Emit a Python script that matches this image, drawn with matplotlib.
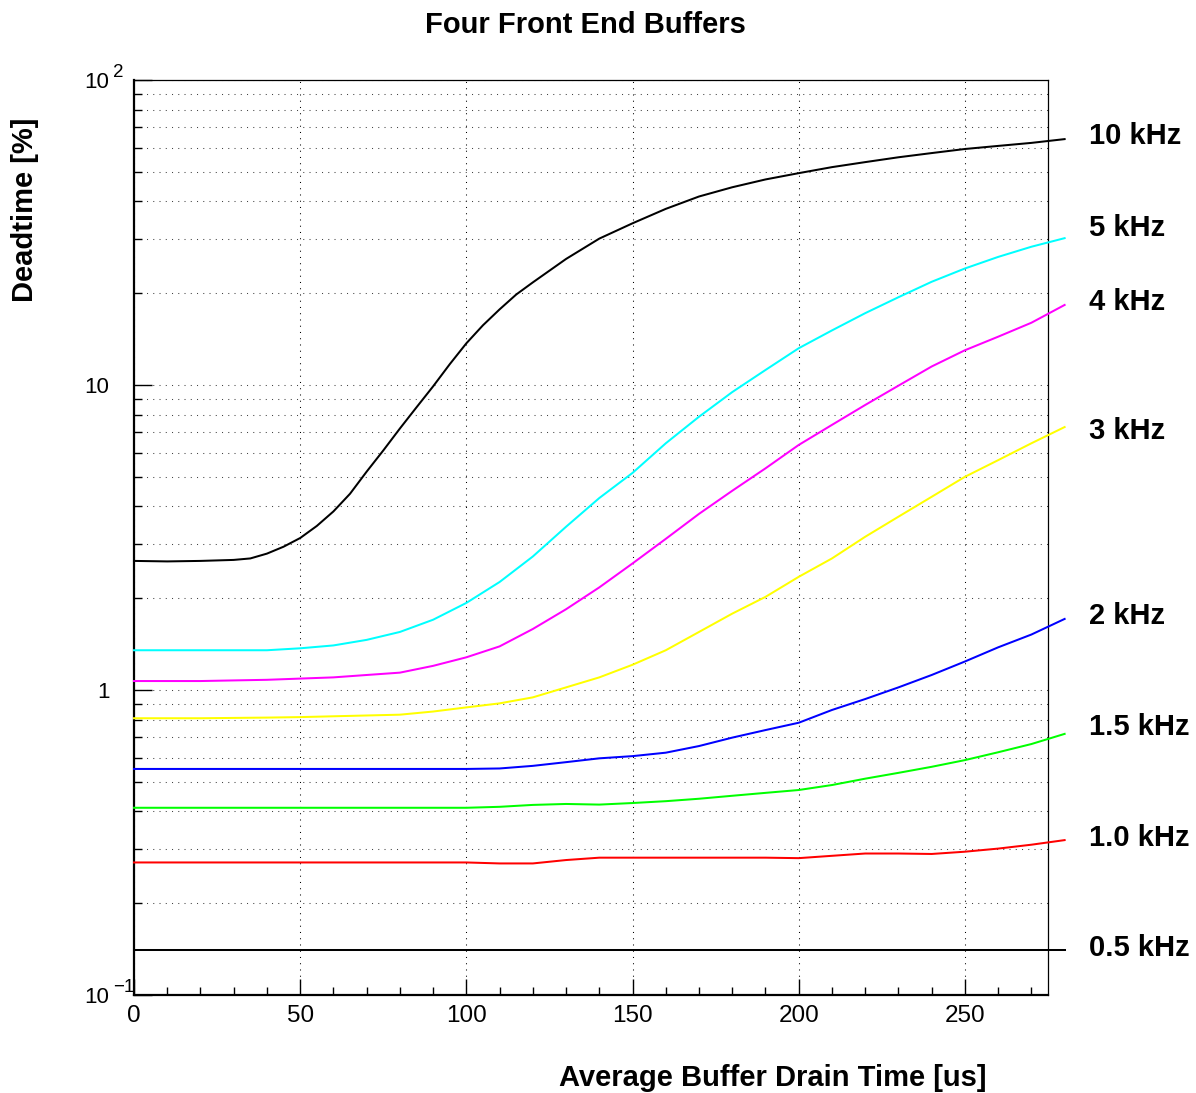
import matplotlib
matplotlib.use("Agg")
import matplotlib.pyplot as plt
import matplotlib.ticker as mticker
from matplotlib.transforms import blended_transform_factory, ScaledTranslation

plt.rcParams['font.family'] = ['Liberation Sans', 'DejaVu Sans']

# drain time [us]
drain = [0, 10, 20, 30, 40, 50, 60, 70, 80, 90, 100, 110, 120, 130, 140,
         150, 160, 170, 180, 190, 200, 210, 220, 230, 240, 250, 260, 270, 280]
# the 10 kHz curve is steep, so it was read on a finer step
drain_10k = [0, 10, 20, 30, 35, 40, 45, 50, 55, 60, 65, 70, 75, 80, 85, 90, 95,
             100, 105, 110, 115, 120, 130, 140, 150, 160, 170, 180, 190, 200,
             210, 220, 230, 240, 250, 260, 270, 280]

# deadtime [%] per trigger rate
dt_10k = [2.65, 2.64, 2.65, 2.67, 2.70, 2.80, 2.95, 3.15, 3.45, 3.85, 4.4, 5.2,
          6.1, 7.2, 8.45, 9.9, 11.7, 13.7, 15.7, 17.7, 19.8, 21.7, 25.9, 30.2,
          33.9, 37.8, 41.5, 44.5, 47.2, 49.5, 51.8, 53.8, 55.8, 57.6, 59.4,
          60.8, 62.2, 64.0]
dt_5k = [1.35, 1.35, 1.35, 1.35, 1.35, 1.37, 1.40, 1.46, 1.55, 1.70, 1.93, 2.26,
         2.74, 3.43, 4.26, 5.15, 6.44, 7.87, 9.48, 11.2, 13.2, 15.1, 17.2, 19.4,
         21.8, 24.1, 26.3, 28.4, 30.3]
dt_4k = [1.07, 1.07, 1.07, 1.075, 1.08, 1.09, 1.10, 1.12, 1.14, 1.20, 1.28, 1.39,
         1.585, 1.84, 2.17, 2.60, 3.13, 3.78, 4.50, 5.33, 6.36, 7.4, 8.6, 9.95,
         11.5, 13.0, 14.4, 16.0, 18.3]
dt_3k = [0.808, 0.808, 0.808, 0.81, 0.812, 0.815, 0.82, 0.825, 0.83, 0.85, 0.877,
         0.904, 0.946, 1.02, 1.10, 1.21, 1.35, 1.55, 1.78, 2.02, 2.35, 2.70, 3.18,
         3.70, 4.30, 5.00, 5.67, 6.44, 7.28]
dt_2k = [0.551, 0.551, 0.551, 0.551, 0.551, 0.551, 0.551, 0.551, 0.551, 0.551,
         0.551, 0.553, 0.564, 0.58, 0.597, 0.607, 0.623, 0.655, 0.698, 0.739,
         0.781, 0.86, 0.934, 1.02, 1.12, 1.24, 1.38, 1.52, 1.71]
dt_1k5 = [0.411, 0.411, 0.411, 0.411, 0.411, 0.411, 0.411, 0.411, 0.411, 0.411,
          0.411, 0.414, 0.42, 0.423, 0.421, 0.426, 0.432, 0.44, 0.45, 0.46,
          0.47, 0.488, 0.512, 0.535, 0.56, 0.589, 0.625, 0.665, 0.718]
dt_1k = [0.272, 0.272, 0.272, 0.272, 0.272, 0.272, 0.272, 0.272, 0.272, 0.272,
         0.272, 0.270, 0.270, 0.277, 0.282, 0.282, 0.282, 0.282, 0.282, 0.282,
         0.281, 0.286, 0.291, 0.291, 0.290, 0.295, 0.302, 0.311, 0.322]
dt_0k5 = [0.1405] * len(drain)

series = [dt_10k, dt_5k, dt_4k, dt_3k, dt_2k, dt_1k5, dt_1k, dt_0k5]
xs = [drain_10k] + [drain] * 7
colors = ['black', '#00ffff', '#ff00ff', '#ffff00', '#0000ff', '#00ff00', '#ff0000', 'black']
rate_labels = ['10 kHz', '5 kHz', '4 kHz', '3 kHz', '2 kHz', '1.5 kHz', '1.0 kHz', '0.5 kHz']
label_y = [65.5, 32.7, 18.7, 7.07, 1.75, 0.757, 0.327, 0.1426]

ytick_vals = [100, 10, 1, 0.1]
ytick_base = ['10', '10', '1', '10']
ytick_exp = ['2', '', '', '\u22121']

fig = plt.figure(figsize=(11.96, 10.93), dpi=100)
ax = fig.add_axes([134/1196, 1 - 995/1093, (1048-134)/1196, (995-80)/1093])

for x, vals, c in zip(xs, series, colors):
    ax.plot(x, vals, color=c, lw=1.45, clip_on=False, zorder=3)

ax.set_yscale('log')
ax.set_xlim(0, 275)
ax.set_ylim(0.1, 100)

ax.xaxis.set_major_locator(mticker.MultipleLocator(50))
ax.xaxis.set_minor_locator(mticker.MultipleLocator(10))
ax.yaxis.set_major_locator(mticker.LogLocator(base=10, numticks=10))
ax.yaxis.set_minor_locator(mticker.LogLocator(base=10, subs=range(2, 10), numticks=20))
ax.yaxis.set_major_formatter(mticker.NullFormatter())
ax.yaxis.set_minor_formatter(mticker.NullFormatter())

ax.tick_params(axis='x', which='major', direction='in', length=11.5, width=1.0,
               labelsize=17.5, pad=7, top=False)
ax.tick_params(axis='x', which='minor', direction='in', length=5.8, width=1.0, top=False)
ax.tick_params(axis='y', which='major', direction='in', length=13, width=1.0, right=False)
ax.tick_params(axis='y', which='minor', direction='in', length=5.8, width=1.0, right=False)

ax.set_axisbelow(True)
ax.xaxis.grid(True, which='major', color='black', lw=0.75, linestyle=(0, (1, 5)))
ax.yaxis.grid(True, which='both', color='#444444', lw=0.75, linestyle=(0, (1, 5)))

for side in ['left', 'bottom']:
    ax.spines[side].set_linewidth(1.6)
for side in ['top', 'right']:
    ax.spines[side].set_linewidth(0.9)

# y tick labels, ROOT style (base and exponent of the same size family)
blend = blended_transform_factory(ax.transAxes, ax.transData)
tr_base = blend + ScaledTranslation(-0.245, -0.08, fig.dpi_scale_trans)
tr_exp = blend + ScaledTranslation(-0.21, 0.03, fig.dpi_scale_trans)
for v, b, e in zip(ytick_vals, ytick_base, ytick_exp):
    ax.text(0, v, b, transform=tr_base, ha='right', va='baseline', fontsize=16)
    if e:
        ax.text(0, v, e, transform=tr_exp, ha='left', va='baseline', fontsize=13.5)

for lab, ly in zip(rate_labels, label_y):
    ax.text(287.3, ly, lab, ha='left', va='center', fontsize=21,
            fontweight='bold', clip_on=False)

fig.text(585/1196, 1 - 25/1093, 'Four Front End Buffers', ha='center', va='center',
         fontsize=21, fontweight='bold')
fig.text(987/1196, 1 - 1078/1093, 'Average Buffer Drain Time [us]', ha='right',
         va='center', fontsize=21, fontweight='bold')
fig.text(25/1196, 1 - 118/1093, 'Deadtime [%]', ha='center', va='top',
         rotation=90, fontsize=21, fontweight='bold')

fig.savefig('out.png', dpi=100)
